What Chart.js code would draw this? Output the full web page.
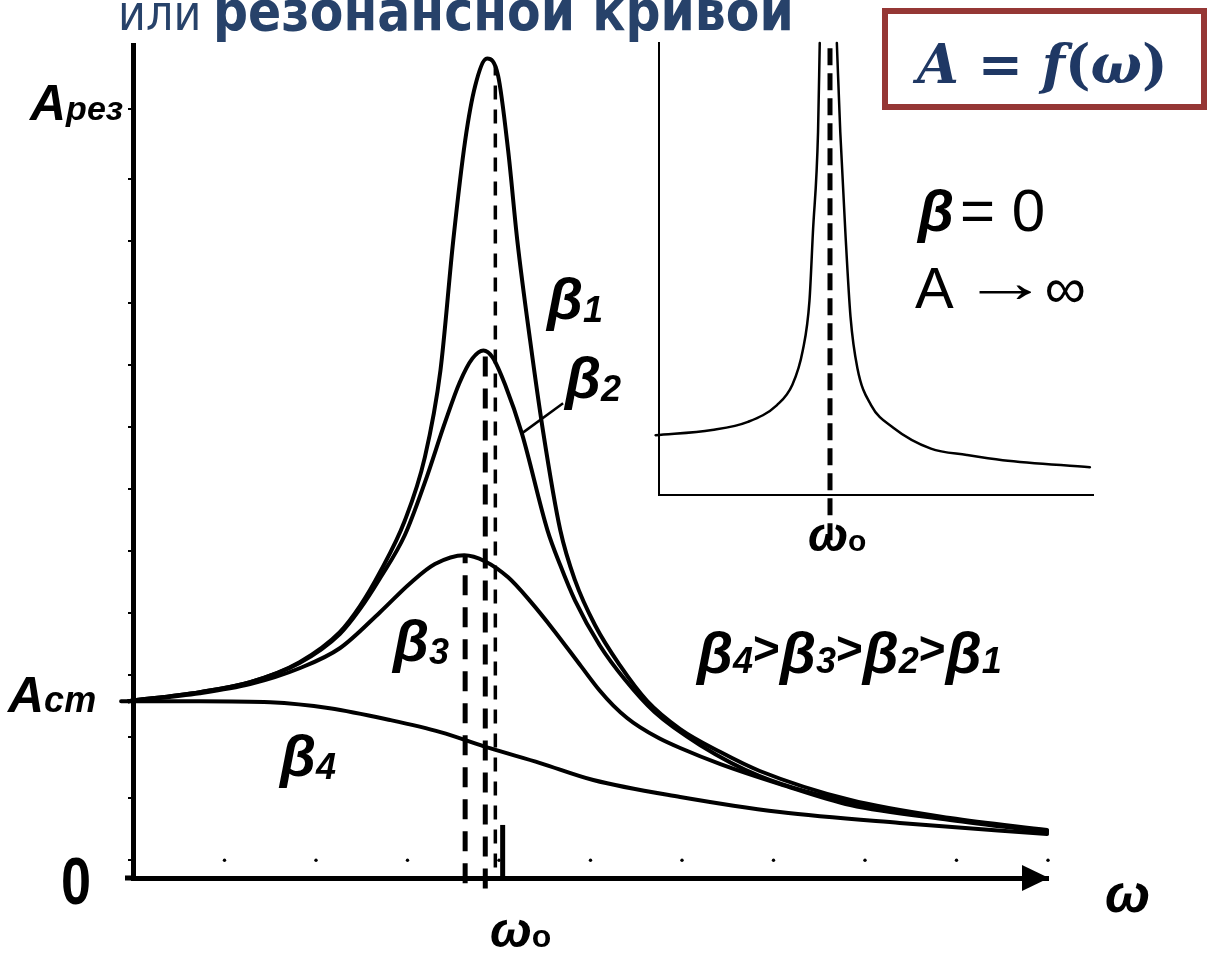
<!DOCTYPE html>
<html lang="ru">
<head>
<meta charset="UTF-8">
<title>Резонансные кривые A = f(ω)</title>
<script src="https://cdn.jsdelivr.net/npm/chart.js"></script>
<style>
  html, body { margin: 0; padding: 0; background: #fff; }
  #wrap { position: relative; width: 1210px; height: 953px; overflow: hidden; }
  #main { position: absolute; left: 0; top: 0; }
  #inset { position: absolute; left: 600px; top: 0; }
</style>
</head>
<body>
<div id="wrap">
  <canvas id="main" width="1210" height="953"></canvas>
  <canvas id="inset" width="560" height="600"></canvas>
</div>
<script>
// ω в условных единицах, амплитуда в единицах A_ст
const omegaB1 = [-0.05, 0.73, 1.28, 1.82, 2.26, 2.48, 2.70, 2.97, 3.19, 3.36, 3.50, 3.63, 3.74, 3.87, 3.99, 4.10, 4.20, 4.34, 4.48, 4.67, 4.83, 5.05, 5.32, 5.62, 5.98, 6.42, 6.85, 7.84, 8.93, 9.99];
const ampB1   = [1.00, 1.051, 1.107, 1.220, 1.390, 1.537, 1.730, 2.020, 2.380, 2.870, 3.605, 4.169, 4.480, 4.633, 4.537, 4.113, 3.605, 3.040, 2.531, 1.966, 1.684, 1.429, 1.203, 1.000, 0.842, 0.712, 0.605, 0.441, 0.339, 0.271];

const omegaB2 = [-0.05, 0.73, 1.28, 1.82, 2.26, 2.48, 2.70, 2.97, 3.19, 3.41, 3.57, 3.71, 3.83, 3.93, 4.07, 4.25, 4.53, 4.67, 4.83, 5.10, 5.38, 5.70, 6.20, 6.85, 7.84, 8.93, 9.99];
const ampB2   = [1.00, 1.051, 1.107, 1.215, 1.379, 1.520, 1.695, 1.938, 2.237, 2.576, 2.802, 2.938, 2.983, 2.944, 2.785, 2.514, 1.966, 1.768, 1.570, 1.316, 1.119, 0.938, 0.751, 0.576, 0.429, 0.333, 0.266];

const omegaB3 = [-0.05, 0.73, 1.28, 1.82, 2.26, 2.70, 3.03, 3.30, 3.62, 3.85, 4.10, 4.35, 4.60, 4.90, 5.10, 5.25, 5.40, 5.54, 5.75, 5.98, 6.42, 7.07, 7.84, 8.93, 9.99];
const ampB3   = [1.00, 1.045, 1.096, 1.186, 1.299, 1.503, 1.667, 1.775, 1.825, 1.790, 1.700, 1.560, 1.400, 1.195, 1.060, 0.975, 0.905, 0.853, 0.790, 0.735, 0.644, 0.531, 0.412, 0.328, 0.260];

const omegaB4 = [-0.13, 0.73, 1.50, 2.15, 2.81, 3.36, 3.90, 4.45, 5.03, 5.98, 7.07, 8.38, 9.99];
const ampB4   = [1.00, 1.00, 0.994, 0.960, 0.893, 0.825, 0.734, 0.650, 0.554, 0.458, 0.373, 0.311, 0.249];

// резонансные частоты для β1, β2, β3 и высота пунктира
const resOmega = [3.96, 3.85, 3.63];
const resTop   = [4.59, 2.983, 1.825];
const resBottom = [0.06, -0.06, -0.03];

const omega0 = 4.04;          // отметка ω0 на оси
const omega0Mark = 0.30;
const yTicks = [0.10, 0.45, 0.80, 1.15, 1.50, 1.85, 2.20, 2.55, 2.90, 3.25, 3.60, 3.95, 4.35];
const xDots = [0, 1, 2, 3, 4, 5, 6, 7, 8, 9, 10];
const dotLevel = 0.10;
const pointerB2 = [{x: 4.25, y: 2.514}, {x: 4.70, y: 2.684}];

// β = 0: ω в единицах ω0, A в единицах A_ст
const insetOmegaL = [-0.02, 0.31, 0.52, 0.69, 0.78, 0.84, 0.88, 0.90, 0.93, 0.94];
const insetAmpL   = [1.03, 1.12, 1.26, 1.55, 1.90, 2.48, 3.35, 4.52, 6.25, 7.79];
const insetOmegaR = [1.04, 1.06, 1.09, 1.12, 1.16, 1.24, 1.37, 1.59, 1.80, 2.01, 2.52];
const insetAmpR   = [7.79, 6.26, 4.52, 3.07, 2.19, 1.55, 1.16, 0.80, 0.69, 0.60, 0.48];
const insetOmega0 = 1.0;

const pts = (xs, ys) => xs.map((x, i) => ({x: x, y: ys[i]}));

const curve = {
  borderColor: '#000', borderWidth: 4, pointRadius: 0, fill: false,
  cubicInterpolationMode: 'monotone', clip: false,
  borderCapStyle: 'round', borderJoinStyle: 'round'
};
const straight = { borderColor: '#000', pointRadius: 0, fill: false, tension: 0, clip: false };
const dashStyles = [[14, 10], [20, 12], [20, 12]];
const dashWidths = [3.5, 5, 5];

const F = {
  bi: n => `italic bold ${n}px "Liberation Sans", Arial, sans-serif`,
  b:  n => `bold ${n}px "Liberation Sans", Arial, sans-serif`,
  r:  n => `${n}px "Liberation Sans", Arial, sans-serif`
};

// текст из кусков разного шрифта (индексы, смещения, растяжение)
function drawParts(ctx, x, y, parts) {
  let cx = x;
  parts.forEach(p => {
    const sx = p.sx || 1, sy = p.sy || 1;
    ctx.font = p.font;
    ctx.fillStyle = p.color || '#000';
    ctx.save();
    ctx.translate(cx, y + (p.dy || 0));
    ctx.scale(sx, sy);
    ctx.fillText(p.t, 0, 0);
    ctx.restore();
    cx += ctx.measureText(p.t).width * sx + (p.gap || 0);
  });
}

const beta = sub => [{t: 'β', font: F.bi(58)}, {t: sub, font: F.bi(36), dy: 3}];
const gt = {t: '>', font: F.b(46), dy: -9};

const labels = [
  {x: 30, y: 120, parts: [{t: 'A', font: F.bi(50)}, {t: 'рез', font: F.bi(34)}]},
  {x: 8, y: 712, parts: [{t: 'A', font: F.bi(50)}, {t: 'ст', font: F.bi(36)}]},
  {x: 61, y: 904, parts: [{t: '0', font: F.b(60), sx: 0.9, sy: 1.12}]},
  {x: 490, y: 947, parts: [{t: 'ω', font: F.bi(50)}, {t: 'o', font: F.b(32)}]},
  {x: 1105, y: 912, parts: [{t: 'ω', font: F.bi(54)}]},
  {x: 547, y: 319, parts: beta('1')},
  {x: 565, y: 398, parts: beta('2')},
  {x: 393, y: 661, parts: beta('3')},
  {x: 280, y: 776, parts: beta('4')},
  {x: 697, y: 673, parts: [
    {t: 'β', font: F.bi(58)}, {t: '4', font: F.bi(36)}, gt,
    {t: 'β', font: F.bi(58)}, {t: '3', font: F.bi(36)}, gt,
    {t: 'β', font: F.bi(58)}, {t: '2', font: F.bi(36)}, gt,
    {t: 'β', font: F.bi(58)}, {t: '1', font: F.bi(36)}
  ]},
  {x: 918, y: 231, parts: [{t: 'β', font: F.bi(58), gap: 6}, {t: '= 0', font: F.r(60)}]},
  {x: 915, y: 308, parts: [
    {t: 'A', font: F.r(58), gap: 8},
    {t: '→', font: F.r(58), sx: 1.5, dy: -6, gap: -4},
    {t: '∞', font: F.r(58)}
  ]},
  {x: 808, y: 551, parts: [{t: 'ω', font: F.bi(48)}, {t: 'o', font: F.b(30)}]}
];

const decor = {
  id: 'decor',
  afterDraw(chart) {
    const ctx = chart.ctx;
    const xs = chart.scales.x, ys = chart.scales.y;
    ctx.save();

    // продолжение оси влево и стрелка оси ω
    const axY = ys.getPixelForValue(0);
    ctx.fillStyle = '#000';
    ctx.fillRect(125, axY - 2.5, xs.left - 125, 5);
    const tipX = xs.getPixelForValue(10) + 1;
    ctx.beginPath();
    ctx.moveTo(tipX, axY);
    ctx.lineTo(tipX - 27, axY - 13);
    ctx.lineTo(tipX - 27, axY + 13);
    ctx.closePath();
    ctx.fill();

    // заголовок, обрезанный сверху
    const blueT = '#27426a';
    drawParts(ctx, 118, 30, [{t: 'или', font: '43px "DejaVu Sans", Verdana, sans-serif', color: blueT, sy: 1.15}]);
    drawParts(ctx, 213, 30, [{t: 'резонансной кривой', font: 'bold 49px "DejaVu Sans", Verdana, sans-serif', color: blueT, sy: 1.12}]);

    // рамка с формулой
    ctx.fillStyle = '#fff';
    ctx.fillRect(885, 11, 319, 96);
    ctx.strokeStyle = '#953735';
    ctx.lineWidth = 6;
    ctx.strokeRect(885, 11, 319, 96);
    const serifBI = 'italic bold 54px "DejaVu Serif", serif';
    const serifB = 'bold 54px "DejaVu Serif", serif';
    const blue = '#1f3864';
    drawParts(ctx, 917, 83, [
      {t: 'A', font: serifBI, color: blue}, {t: ' = ', font: serifB, color: blue},
      {t: 'f', font: serifBI, color: blue}, {t: '(', font: serifB, color: blue},
      {t: 'ω', font: serifBI, color: blue}, {t: ')', font: serifB, color: blue}
    ]);

    labels.forEach(l => drawParts(ctx, l.x, l.y, l.parts));
    ctx.restore();
  }
};

const mainDatasets = [
  {...curve, data: pts(omegaB1, ampB1)},
  {...curve, data: pts(omegaB2, ampB2)},
  {...curve, data: pts(omegaB3, ampB3)},
  {...curve, data: pts(omegaB4, ampB4)}
];
resOmega.forEach((w, i) => {
  mainDatasets.push({...straight, borderWidth: dashWidths[i], borderDash: dashStyles[i],
    data: [{x: w, y: resBottom[i]}, {x: w, y: resTop[i]}]});
});
mainDatasets.push({...straight, borderWidth: 5, data: [{x: omega0, y: 0}, {x: omega0, y: omega0Mark}]});
mainDatasets.push({...straight, borderWidth: 2.5, data: pointerB2});
mainDatasets.push({showLine: false, pointRadius: 1.7, pointBorderWidth: 0, pointBackgroundColor: '#000',
  clip: false, data: xDots.map(x => ({x: x, y: dotLevel}))});

new Chart(document.getElementById('main'), {
  type: 'line',
  data: { datasets: mainDatasets },
  options: {
    responsive: false, animation: false, devicePixelRatio: 1, events: [],
    layout: { padding: { left: 128, right: 162, top: 45, bottom: 75 } },
    plugins: { legend: { display: false }, tooltip: { enabled: false } },
    scales: {
      x: {
        type: 'linear', min: 0, max: 10,
        grid: { display: false, drawTicks: false },
        ticks: { display: false },
        border: { display: true, width: 5, color: '#000' }
      },
      y: {
        type: 'linear', min: 0, max: 4.71,
        afterBuildTicks: s => { s.ticks = yTicks.map(v => ({value: v})); },
        grid: { drawOnChartArea: false, drawTicks: true, tickLength: 5, lineWidth: 2, color: '#000' },
        ticks: { display: false },
        border: { display: true, width: 5, color: '#000' }
      }
    }
  },
  plugins: [decor]
});

new Chart(document.getElementById('inset'), {
  type: 'line',
  data: {
    datasets: [
      {...curve, borderWidth: 2.5, data: pts(insetOmegaL, insetAmpL)},
      {...curve, borderWidth: 2.5, data: pts(insetOmegaR, insetAmpR)},
      {...straight, borderWidth: 5, borderDash: [17, 8], data: [{x: insetOmega0, y: -0.78}, {x: insetOmega0, y: 7.79}]}
    ]
  },
  options: {
    responsive: false, animation: false, devicePixelRatio: 1, events: [],
    layout: { padding: { left: 59, right: 67, top: 43, bottom: 105 } },
    plugins: { legend: { display: false }, tooltip: { enabled: false } },
    scales: {
      x: {
        type: 'linear', min: 0, max: 2.538,
        grid: { display: false, drawTicks: false }, ticks: { display: false },
        border: { display: true, width: 2, color: '#000' }
      },
      y: {
        type: 'linear', min: 0, max: 7.79,
        grid: { display: false, drawTicks: false }, ticks: { display: false },
        border: { display: true, width: 2, color: '#000' }
      }
    }
  }
});
</script>
</body>
</html>
